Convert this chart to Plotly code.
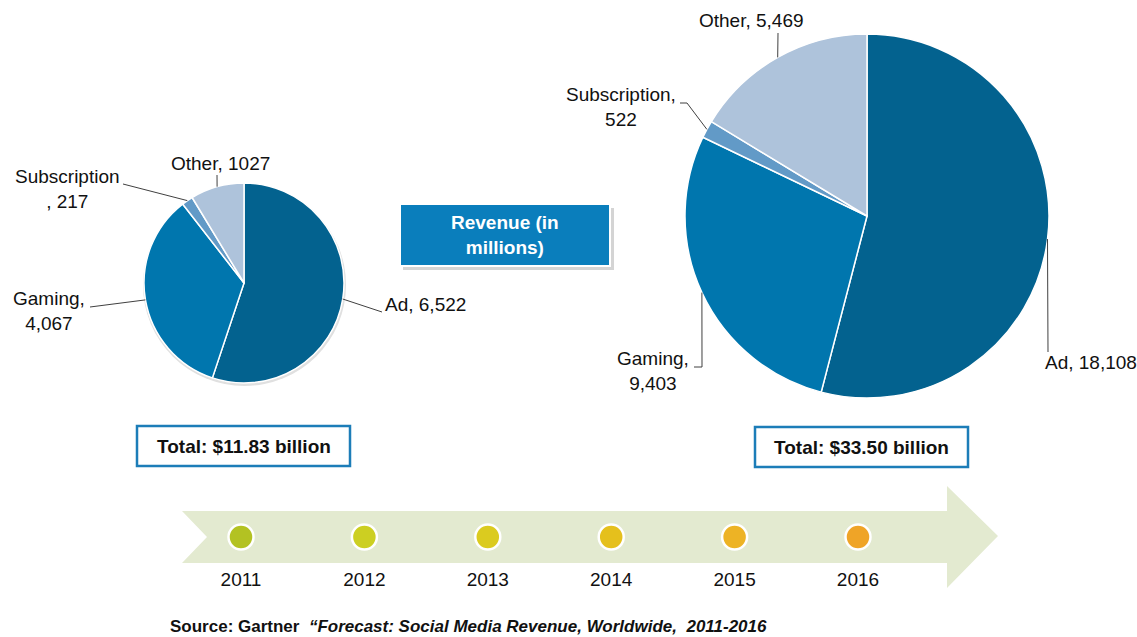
import math
import plotly.graph_objects as go

# ---------------- data ----------------
categories = ["Ad", "Gaming", "Subscription", "Other"]
revenue_2011 = [6522, 4067, 217, 1027]
revenue_2016 = [18108, 9403, 522, 5469]
value_text_2011 = ["6,522", "4,067", "217", "1027"]
value_text_2016 = ["18,108", "9,403", "522", "5,469"]
total_text = ["Total: $11.83 billion", "Total: $33.50 billion"]
years = [2011, 2012, 2013, 2014, 2015, 2016]
box_title = "Revenue (in<br>millions)"
source_text = ("<b>Source: Gartner  <i>\u201cForecast: Social Media Revenue, "
               "Worldwide,  2011-2016</i></b>")

# ---------------- style ----------------
W, H = 1137, 637
FONT = "Liberation Sans, Arial, sans-serif"
FS = 19
slice_colors = ["#03628F", "#0076AE", "#629AC7", "#AEC3DB"]
year_colors = ["#B3C222", "#CCCF22", "#DBCB1F", "#E5C01C", "#EDB325", "#EFA427"]
line_col = "#404040"

# pie geometry (pixels)
pies = [
    dict(values=revenue_2011, cx=244, cy=283, r=100),
    dict(values=revenue_2016, cx=867, cy=216, r=182),
]


def edge_point(values, i, cx, cy, r):
    tot = sum(values)
    start = sum(values[:i]) / tot
    mid = (start + values[i] / tot / 2) * 2 * math.pi
    return cx + r * math.sin(mid), cy - r * math.cos(mid)


fig = go.Figure()

for p in pies:
    cx, cy, r = p["cx"], p["cy"], p["r"]
    fig.add_trace(go.Pie(
        labels=categories, values=p["values"], sort=False,
        direction="clockwise", rotation=0,
        marker=dict(colors=slice_colors, line=dict(color="white", width=1.5)),
        textinfo="none", hoverinfo="label+value", showlegend=False,
        domain=dict(x=[(cx - r) / W, (cx + r) / W],
                    y=[1 - (cy + r) / H, 1 - (cy - r) / H]),
    ))

# timeline dots on a year axis
fig.add_trace(go.Scatter(
    x=years, y=[537] * len(years), xaxis="x2", yaxis="y", mode="markers",
    marker=dict(size=25, color=year_colors, line=dict(color="white", width=2.5)),
    showlegend=False, hoverinfo="x",
))
fig.add_trace(go.Scatter(
    x=years, y=[581] * len(years), xaxis="x2", yaxis="y", mode="text",
    text=[str(y) for y in years], textposition="middle center",
    textfont=dict(family=FONT, size=FS, color="#111111"),
    showlegend=False, hoverinfo="skip",
))

shapes = []
annotations = []

# left pie shadow
shapes.append(dict(type="circle", xref="x", yref="y", layer="below",
                   x0=pies[0]["cx"] - 101, x1=pies[0]["cx"] + 102,
                   y0=pies[0]["cy"] - 99, y1=pies[0]["cy"] + 103,
                   fillcolor="#E0E0E0", line=dict(width=0)))

# timeline arrow
shapes.append(dict(type="path", xref="x", yref="y", layer="below",
                   path="M182,511 L947,511 L947,486 L998,536 L947,588 L947,563 L182,563 L207,537 Z",
                   fillcolor="#E3EAD0", line=dict(width=0)))


def leader(pie, i, pts):
    x0, y0 = edge_point(pie["values"], i, pie["cx"], pie["cy"], pie["r"])
    path = f"M{x0:.1f},{y0:.1f} " + " ".join(f"L{x},{y}" for x, y in pts)
    shapes.append(dict(type="path", xref="x", yref="y", path=path,
                       line=dict(color=line_col, width=1)))
    return x0, y0


def label(text, x, y, anchor="center"):
    annotations.append(dict(text=text, x=x, y=y, xref="x", yref="y",
                            xanchor=anchor, yanchor="middle", showarrow=False,
                            align="center",
                            font=dict(family=FONT, size=FS, color="#111111")))


L, R = pies
# 2011
leader(L, 0, [(382, 312)])
label(f"{categories[0]}, {value_text_2011[0]}", 383, 304, "left")
leader(L, 1, [(90, 307)])
label(f"{categories[1]},<br>{value_text_2011[1]}", 49, 311)
leader(L, 2, [(123, 184)])
label(f"{categories[2]}<br>, {value_text_2011[2]}", 67, 189)
ox, oy = edge_point(L["values"], 3, L["cx"], L["cy"], L["r"])
leader(L, 3, [(round(ox), 175)])
label(f"{categories[3]}, {value_text_2011[3]}", 220, 163)

# 2016
ax, ay = edge_point(R["values"], 0, R["cx"], R["cy"], R["r"])
leader(R, 0, [(round(ax), 352)])
label(f"{categories[0]}, {value_text_2016[0]}", 1043, 362, "left")
gx, gy = edge_point(R["values"], 1, R["cx"], R["cy"], R["r"])
leader(R, 1, [(round(gx), 367), (694, 367)])
label(f"{categories[1]},<br>{value_text_2016[1]}", 653, 371)
leader(R, 2, [(687, 103), (680, 103)])
label(f"{categories[2]},<br>{value_text_2016[2]}", 621, 107)
rx, ry = edge_point(R["values"], 3, R["cx"], R["cy"], R["r"])
leader(R, 3, [(round(rx), 33)])
label(f"{categories[3]}, {value_text_2016[3]}", 751, 20)

# Revenue box (shadow + box)
shapes.append(dict(type="rect", xref="x", yref="y", x0=403, x1=614, y0=208, y1=270,
                   fillcolor="#D4D4D4", line=dict(width=0)))
shapes.append(dict(type="rect", xref="x", yref="y", x0=400, x1=610, y0=204, y1=266,
                   fillcolor="#0A7EBC", line=dict(color="white", width=2)))
annotations.append(dict(text=f"<b>{box_title}</b>", x=505, y=235, xref="x", yref="y",
                        showarrow=False, align="center",
                        font=dict(family=FONT, size=FS, color="white")))

# Total boxes
for (x0, x1, y0, y1), t in zip([(137, 350, 426, 466), (755, 968, 427, 467)], total_text):
    shapes.append(dict(type="rect", xref="x", yref="y", x0=x0, x1=x1, y0=y0, y1=y1,
                       fillcolor="white", line=dict(color="#1C7DB8", width=2.5)))
    annotations.append(dict(text=f"<b>{t}</b>", x=(x0 + x1) / 2, y=(y0 + y1) / 2,
                            xref="x", yref="y", showarrow=False,
                            font=dict(family=FONT, size=FS, color="#111111")))

# source
annotations.append(dict(text=source_text, x=168, y=626, xref="x", yref="y",
                        xanchor="left", yanchor="middle", showarrow=False,
                        font=dict(family=FONT, size=17, color="#111111")))

# year axis: map 2011 -> 241px and 2016 -> 858px
px_per_year = (858 - 241) / (years[-1] - years[0])
x2_range = [years[0] - 241 / px_per_year, years[0] + (W - 241) / px_per_year]

fig.update_layout(
    width=W, height=H, margin=dict(l=0, r=0, t=0, b=0),
    paper_bgcolor="white", plot_bgcolor="rgba(0,0,0,0)",
    xaxis=dict(range=[0, W], visible=False, fixedrange=True, domain=[0, 1]),
    xaxis2=dict(range=x2_range, visible=False, fixedrange=True, overlaying="x",
                domain=[0, 1]),
    yaxis=dict(range=[H, 0], visible=False, fixedrange=True, domain=[0, 1]),
    shapes=shapes, annotations=annotations,
)

fig.write_html("out.html",
               config={"displayModeBar": False},
               post_script="document.body.style.margin='0';"
                           "document.body.style.overflow='hidden';")
